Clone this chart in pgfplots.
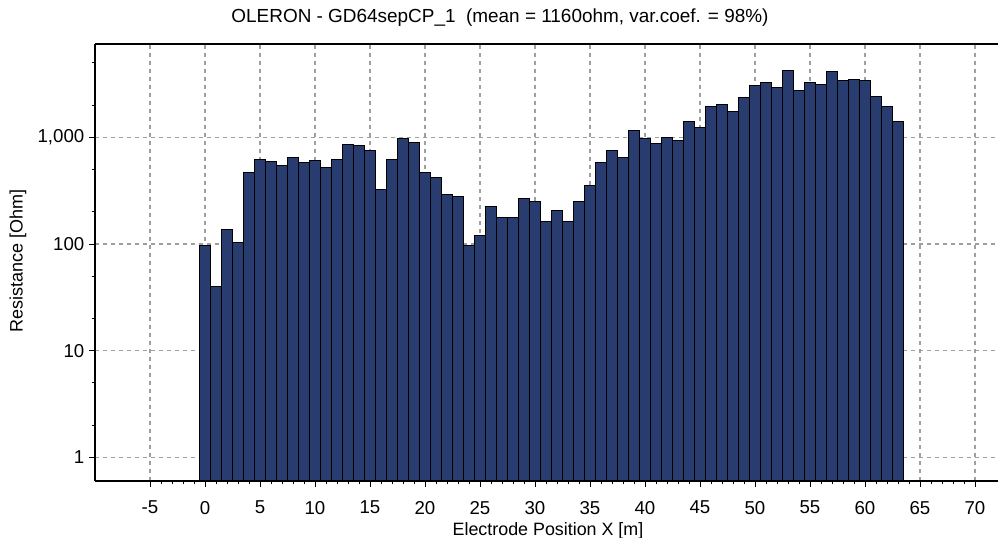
\documentclass[border=0pt]{standalone}
\usepackage{pgfplots}
\pgfplotsset{compat=1.18}
\usepackage{fontspec}
\setmainfont{Liberation Sans}
\definecolor{barblue}{RGB}{40,60,112}
\begin{document}
\begin{tikzpicture}
\useasboundingbox (0,0) rectangle (748.5pt,403.5pt);
\begin{axis}[
 at={(71.25pt,42.75pt)}, anchor=south west,
 scale only axis, width=677.25pt, height=327.75pt,
 ymode=log, xmin=-10, xmax=72.1, ymin=0.6, ymax=7500,
 log origin y=infty,
 axis x line*=box, axis y line*=left,
 axis line style={line width=1.5pt},
 xtick={-5,0,...,70}, minor x tick num=4,
 ytick={1,10,100,1000}, yticklabels={1,10,100,{1,000}},
 minor ytick={2,5,20,50,200,500,2000,5000},
 tick align=outside, xtick pos=left, ytick pos=left,
 major tick length=4.5pt, minor tick length=2.5pt,
 tick style={black, line width=0.6pt},
 grid=major, major grid style={gray!75, dash pattern=on 3pt off 3pt, line width=0.9pt},
 /pgf/number format/assume math mode=true,
 ticklabel style={font=\fontsize{14}{16}\selectfont},
 xticklabel style={yshift=-7pt},
]
\addplot[ybar, bar width=1, fill=barblue, draw=black, line width=0.75pt] coordinates {
(0,96) (1,40) (2,138) (3,103) (4,463) (5,626) (6,596) (7,550) (8,645) (9,575)
(10,600) (11,516) (12,622) (13,860) (14,841) (15,750) (16,321) (17,626) (18,983) (19,898)
(20,463) (21,416) (22,288) (23,280) (24,96) (25,120) (26,225) (27,178) (28,178) (29,268)
(30,251) (31,162) (32,205) (33,162) (34,251) (35,357) (36,575) (37,750) (38,645) (39,1170)
(40,983) (41,866) (42,990) (43,930) (44,1400) (45,1240) (46,1940) (47,2020) (48,1750) (49,2370)
(50,3050) (51,3280) (52,2940) (53,4220) (54,2740) (55,3280) (56,3160) (57,4100) (58,3400) (59,3500)
(60,3400) (61,2440) (62,1950) (63,1410)
};
\end{axis}
\node[font=\fontsize{14.2}{16}\selectfont] at (375pt,390pt) {OLERON - GD64sepCP\_1 \ (mean = 1160ohm, var.coef. = 98\%)};
\node[font=\fontsize{13.5}{15}\selectfont, rotate=90] at (13.5pt,207.75pt) {Resistance [Ohm]};
\node[font=\fontsize{13.4}{15}\selectfont] at (411pt,5pt) {Electrode Position X [m]};
\end{tikzpicture}
\end{document}
